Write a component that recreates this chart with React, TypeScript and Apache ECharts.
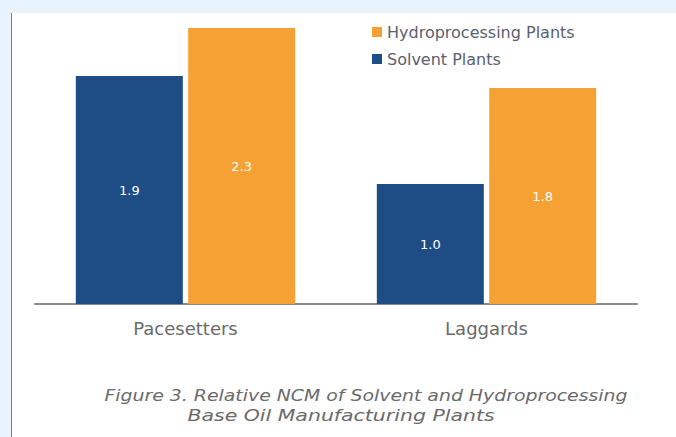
import React, { useEffect, useRef } from "react";
import * as echarts from "echarts";

const categories = ["Pacesetters", "Laggards"];
const solventValues = [1.9, 1.0];
const hydroValues = [2.3, 1.8];
const seriesNames = ["Solvent Plants", "Hydroprocessing Plants"];
const captionLines = [
  "Figure 3. Relative NCM of Solvent and Hydroprocessing",
  "Base Oil Manufacturing Plants",
];

const FONT = "DejaVu Sans";

export default function App() {
  const ref = useRef<HTMLDivElement>(null);
  useEffect(() => {
    if (!ref.current) return;
    const chart = echarts.init(ref.current, undefined, { renderer: "svg" });
    const label = {
      show: true,
      position: "inside",
      color: "#ffffff",
      fontSize: 13,
      fontFamily: FONT,
      formatter: (p: any) => Number(p.value).toFixed(1),
    };
    const captionStyle = (text: string) => ({
      text,
      fill: "#6a6a6a",
      font: `italic 16px '${FONT}'`,
      textAlign: "center",
      textVerticalAlign: "middle",
    });
    chart.setOption({
      animation: false,
      backgroundColor: "#e8f4fd",
      graphic: [
        { type: "rect", z: -10, shape: { x: 12, y: 13, width: 664, height: 424 }, style: { fill: "#ffffff" } },
        { type: "line", z: -9, shape: { x1: 11.5, y1: 13, x2: 11.5, y2: 437 }, style: { stroke: "#7a7f88", lineWidth: 1 } },
        { type: "text", x: 366, y: 396, scaleX: 1.18, style: captionStyle(captionLines[0]) },
        { type: "text", x: 341, y: 415, scaleX: 1.28, style: captionStyle(captionLines[1]) },
      ],
      legend: {
        orient: "vertical",
        left: 367,
        top: 19,
        itemWidth: 10,
        itemHeight: 10,
        itemGap: 11,
        icon: "rect",
        data: [seriesNames[1], seriesNames[0]],
        textStyle: { color: "#5a6070", fontSize: 16, fontFamily: FONT },
      },
      grid: { left: 35, right: 39, top: 16, bottom: 133 },
      xAxis: {
        type: "category",
        data: categories,
        axisLine: { lineStyle: { color: "#8a8a8a", width: 2 } },
        axisTick: { show: false },
        axisLabel: { color: "#6a6a6a", fontSize: 18, fontFamily: FONT, margin: 15 },
      },
      yAxis: { type: "value", min: 0, max: 2.4, show: false, splitLine: { show: false } },
      series: [
        {
          name: seriesNames[0],
          type: "bar",
          data: solventValues,
          barWidth: 107,
          barGap: "5%",
          itemStyle: { color: "#1e4d85" },
          label,
        },
        {
          name: seriesNames[1],
          type: "bar",
          data: hydroValues,
          barWidth: 107,
          barGap: "5%",
          itemStyle: { color: "#f6a134" },
          label,
        },
      ],
    });
    return () => chart.dispose();
  }, []);
  return (
    <div
      ref={ref}
      style={{ position: "absolute", left: 0, top: 0, width: 676, height: 437 }}
    />
  );
}
